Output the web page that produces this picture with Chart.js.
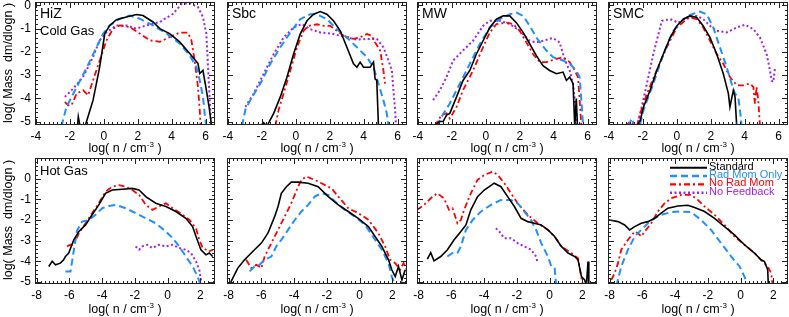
<!DOCTYPE html>
<html>
<head>
<meta charset="utf-8">
<script src="https://cdn.jsdelivr.net/npm/chart.js@4.4.1/dist/chart.umd.min.js"></script>
<style>
  body { margin: 0; background: #fff; width: 789px; height: 317px; position: relative; overflow: hidden;
         font-family: "Liberation Sans", Arial, sans-serif; color: #000; }
  canvas { position: absolute; }
  .txt { position: absolute; white-space: nowrap; line-height: 1; }
  .ytitle { font-size: 12.5px; transform: translate(-50%, -50%) rotate(-90deg); }
  .xtitle { font-size: 12.5px; transform: translate(-50%, -50%); }
  .sup { font-size: 8px; position: relative; top: -5px; }
  .name { font-size: 14px; transform: translateY(-50%); }
  .sub { font-size: 13px; transform: translateY(-50%); }
</style>
</head>
<body>
<script>
// Mass-weighted density PDFs, cold gas (top row) and hot gas (bottom row)

const topXTicks = [-4, -2, 0, 2, 4, 6];
const bottomXTicks = [-8, -6, -4, -2, 0, 2];
const yTicks = [0, -1, -2, -3, -4, -5];
const seriesNames = ['Standard', 'Rad Mom Only', 'No Rad Mom', 'No Feedback'];
const panelNames = ['HiZ', 'Sbc', 'MW', 'SMC'];

// cold gas, [log n, log dm/dlogn]
const hizStandard = [[-1.55,-5.2],[-1.5,-4.8],[-1.4,-5.2],[-1.1,-5.2],[-0.63,-4.08],[-0.24,-2.65],[0.06,-1.21],[0.35,-0.86],[0.75,-0.61],[1.33,-0.5],[1.92,-0.39],[2.31,-0.43],[2.9,-0.71],[3.3,-1.0],[3.88,-1.21],[4.47,-1.57],[5.06,-2.07],[5.55,-2.5],[5.65,-2.93],[5.84,-2.8],[6.04,-3.65],[6.2,-4.36],[6.35,-5.2]];
const hizRadMom = [[-2.49,-5.2],[-2.2,-4.38],[-1.6,-3.52],[-1.0,-2.67],[-0.43,-1.8],[-0.04,-1.22],[0.35,-0.86],[0.94,-0.57],[1.53,-0.43],[2.12,-0.57],[2.9,-0.86],[3.69,-1.21],[4.47,-1.64],[5.06,-2.15],[5.45,-2.65],[5.65,-3.22],[5.84,-3.93],[5.94,-4.65],[6.04,-5.2]];
const hizNoRadMom = [[-2.29,-4.15],[-2.1,-4.3],[-1.9,-4.3],[-1.6,-3.8],[-1.22,-3.65],[-0.92,-3.87],[-0.63,-3.22],[-0.24,-2.37],[0.16,-1.5],[0.55,-1.0],[0.94,-0.86],[1.53,-0.93],[2.12,-1.21],[2.7,-1.5],[3.3,-1.57],[3.88,-1.36],[4.47,-1.17],[4.96,-1.17],[5.16,-1.5],[5.35,-2.37],[5.55,-3.52],[5.65,-4.5],[5.7,-5.2]];
const hizNoFeedback = [[-2.29,-3.94],[-1.8,-3.58],[-1.22,-3.08],[-0.63,-2.22],[-0.24,-1.5],[0.16,-1.15],[0.75,-0.86],[1.33,-0.86],[1.92,-1.0],[2.51,-0.86],[3.3,-0.71],[4.08,-0.36],[4.57,0.06],[5.06,0.1],[5.55,-0.07],[5.84,-0.5],[6.04,-1.21],[6.14,-2.65],[6.24,-4.08],[6.33,-5.2]];

const sbcStandard = [[-2.09,-5.2],[-1.9,-5.05],[-1.7,-5.2],[-1.3,-4.65],[-0.91,-3.94],[-0.52,-3.09],[-0.13,-2.09],[0.26,-1.23],[0.66,-0.66],[1.05,-0.38],[1.44,-0.26],[1.83,-0.38],[2.22,-0.66],[2.62,-1.09],[3.01,-1.8],[3.4,-2.51],[3.6,-2.66],[3.79,-2.44],[3.99,-2.66],[4.38,-2.66],[4.58,-2.44],[4.67,-3.16],[4.77,-3.23],[4.87,-5.2]];
const sbcRadMom = [[-3.17,-5.2],[-2.97,-4.5],[-2.68,-4.08],[-2.09,-3.37],[-1.5,-2.51],[-0.91,-1.8],[-0.32,-1.16],[0.26,-0.59],[0.85,-0.38],[1.25,-0.38],[1.83,-0.59],[2.42,-1.02],[3.01,-1.38],[3.6,-1.8],[4.19,-2.23],[4.58,-2.66],[4.87,-3.37],[5.16,-4.08],[5.36,-4.65],[5.46,-5.2]];
const sbcNoRadMom = [[-1.21,-5.2],[-1.01,-4.5],[-0.72,-3.8],[-0.32,-2.8],[0.07,-1.8],[0.46,-1.09],[0.75,-0.88],[1.25,-0.81],[1.64,-0.88],[2.03,-0.88],[2.42,-1.09],[2.81,-1.3],[3.4,-1.44],[3.79,-1.37],[4.19,-1.23],[4.48,-1.3],[4.67,-1.59],[4.97,-1.94],[5.16,-2.8],[5.26,-3.37]];
const sbcNoFeedback = [[-2.97,-4.37],[-2.48,-3.8],[-1.89,-2.94],[-1.3,-2.09],[-0.72,-1.38],[-0.13,-0.95],[0.36,-0.8],[0.85,-1.02],[1.44,-1.16],[2.22,-1.23],[3.01,-1.38],[3.6,-1.47],[4.19,-1.44],[4.77,-1.44],[5.16,-1.8],[5.46,-2.37],[5.66,-2.8],[5.75,-3.65],[5.85,-4.5],[5.9,-5.2]];

const mwStandard = [[-3.0,-5.2],[-2.73,-5.0],[-2.51,-5.0],[-2.31,-4.72],[-2.12,-4.65],[-1.72,-3.94],[-1.34,-3.23],[-0.94,-2.8],[-0.55,-2.09],[-0.16,-1.52],[0.24,-0.95],[0.63,-0.59],[1.02,-0.45],[1.41,-0.45],[1.8,-0.74],[2.2,-1.16],[2.59,-1.66],[2.98,-2.16],[3.37,-2.59],[3.76,-2.8],[4.16,-2.94],[4.55,-2.87],[4.75,-3.23],[4.94,-3.09],[5.14,-3.37],[5.24,-5.2],[5.33,-4.01],[5.4,-5.2]];
const mwRadMom = [[-2.9,-5.2],[-2.61,-4.8],[-2.12,-4.22],[-1.53,-3.37],[-0.94,-2.51],[-0.35,-1.66],[0.24,-0.95],[0.82,-0.59],[1.41,-0.38],[1.8,-0.31],[2.2,-0.45],[2.59,-0.88],[2.98,-1.38],[3.57,-1.94],[3.96,-2.23],[4.55,-2.37],[4.94,-2.51],[5.33,-2.8],[5.53,-3.09],[5.63,-4.08],[5.73,-5.2]];
const mwNoRadMom = [[-3.0,-5.2],[-2.61,-4.72],[-2.31,-4.65],[-2.12,-4.87],[-1.72,-4.37],[-1.34,-3.65],[-0.75,-2.8],[-0.16,-1.8],[0.24,-1.16],[0.63,-0.8],[1.22,-0.74],[1.61,-0.8],[2.0,-1.09],[2.39,-1.59],[2.78,-2.09],[3.18,-2.44],[3.57,-2.44],[4.16,-2.3],[4.55,-2.23],[4.94,-2.44],[5.24,-2.8],[5.43,-3.09],[5.53,-4.08],[5.63,-5.2]];
const mwNoFeedback = [[-3.1,-4.08],[-2.71,-3.66],[-2.31,-3.08],[-1.92,-2.37],[-1.34,-1.94],[-0.75,-1.52],[-0.16,-0.88],[0.24,-0.66],[0.82,-0.66],[1.41,-0.8],[2.0,-1.09],[2.59,-1.52],[2.98,-1.59],[3.37,-1.52],[3.96,-1.4],[4.35,-1.59],[4.55,-2.09],[4.75,-2.51],[4.94,-2.8],[5.14,-3.37],[5.24,-4.08],[5.33,-5.2]];

const smcStandard = [[-2.35,-5.2],[-2.15,-4.95],[-1.96,-4.37],[-1.57,-3.65],[-1.18,-2.8],[-0.79,-2.09],[-0.39,-1.38],[0.0,-0.88],[0.39,-0.59],[0.78,-0.45],[1.18,-0.52],[1.56,-0.88],[1.96,-1.38],[2.35,-2.09],[2.74,-2.94],[3.04,-3.8],[3.13,-4.37],[3.33,-3.66],[3.43,-3.94],[3.53,-5.2]];
const smcRadMom = [[-2.85,-5.2],[-2.65,-4.87],[-2.45,-5.2],[-2.15,-5.1],[-1.96,-4.5],[-1.38,-3.37],[-0.79,-2.09],[-0.2,-1.09],[0.39,-0.59],[0.78,-0.41],[1.37,-0.26],[1.76,-0.38],[2.15,-0.95],[2.54,-1.8],[2.94,-2.66],[3.23,-3.37],[3.43,-3.8],[3.62,-3.94],[3.72,-4.5],[3.82,-5.2]];
const smcNoRadMom = [[-3.04,-5.2],[-2.75,-5.0],[-2.35,-5.2],[-2.15,-4.65],[-1.76,-3.8],[-1.18,-2.8],[-0.59,-1.8],[0.0,-0.95],[0.59,-0.59],[0.78,-0.52],[1.18,-0.59],[1.56,-0.95],[1.96,-1.52],[2.35,-2.09],[2.74,-2.51],[3.13,-3.08],[3.53,-3.44],[3.92,-3.44],[4.31,-3.37],[4.51,-3.51],[4.6,-4.23],[4.7,-3.51],[4.8,-4.08],[4.9,-5.2]];
const smcNoFeedback = [[-2.35,-5.2],[-2.15,-4.65],[-1.76,-3.37],[-1.38,-2.09],[-1.08,-1.23],[-0.88,-0.66],[-0.39,-0.59],[0.1,-0.74],[0.59,-0.52],[1.18,-0.45],[1.56,-0.59],[1.96,-0.88],[2.35,-1.09],[2.94,-1.16],[3.53,-0.95],[4.02,-0.83],[4.51,-1.02],[4.9,-1.38],[5.29,-2.09],[5.49,-2.8],[5.58,-3.23],[5.68,-3.3],[5.78,-2.73]];

// hot gas
const hotHizStandard = [[-7.26,-4.25],[-7.05,-4.0],[-6.85,-4.17],[-6.55,-4.09],[-6.35,-3.93],[-6.24,-3.77],[-6.04,-3.6],[-5.73,-2.96],[-5.42,-2.56],[-5.01,-2.24],[-4.61,-1.75],[-4.2,-1.27],[-3.79,-0.71],[-3.38,-0.55],[-2.77,-0.51],[-2.15,-0.47],[-1.74,-0.55],[-1.33,-0.87],[-0.72,-1.19],[-0.1,-1.35],[0.51,-1.59],[1.12,-1.92],[1.53,-2.32],[1.74,-2.8],[2.04,-3.45],[2.35,-3.69],[2.55,-3.6],[2.76,-3.77]];
const hotHizRadMom = [[-6.24,-4.49],[-5.93,-4.49],[-5.73,-3.48],[-5.53,-2.51],[-5.22,-2.08],[-4.81,-2.0],[-4.4,-1.75],[-3.99,-1.43],[-3.58,-1.32],[-3.17,-1.27],[-2.56,-1.43],[-1.95,-1.67],[-1.33,-1.92],[-0.72,-2.16],[-0.1,-2.56],[0.31,-2.88],[0.71,-3.28],[1.12,-3.77],[1.53,-4.25],[1.84,-4.74],[2.04,-5.2]];
const hotHizNoRadMom = [[-6.14,-3.28],[-5.93,-3.2],[-5.73,-3.2],[-5.42,-2.64],[-5.01,-2.16],[-4.61,-1.67],[-4.2,-1.19],[-3.79,-0.63],[-3.38,-0.39],[-2.97,-0.31],[-2.56,-0.39],[-2.15,-0.55],[-1.74,-0.79],[-1.33,-1.27],[-0.93,-1.51],[-0.52,-1.35],[-0.1,-1.19],[0.31,-1.43],[0.92,-1.75],[1.33,-1.99],[1.74,-2.4],[1.94,-2.96],[2.15,-3.36],[2.55,-3.52],[2.76,-3.44]];
const hotHizNoFeedback = [[-1.95,-3.28],[-1.74,-3.44],[-1.54,-3.28],[-1.23,-3.2],[-0.93,-3.36],[-0.52,-3.2],[-0.1,-3.28],[0.31,-3.2],[0.71,-3.36],[1.12,-3.44],[1.43,-3.6],[1.74,-4.01],[1.94,-4.41],[2.1,-5.2]];

const hotSbcStandard = [[-8.0,-5.2],[-7.85,-4.98],[-7.64,-4.65],[-7.44,-4.33],[-7.03,-3.93],[-6.83,-3.77],[-6.42,-3.44],[-6.0,-3.12],[-5.6,-2.64],[-5.19,-1.84],[-4.98,-1.35],[-4.78,-0.71],[-4.47,-0.39],[-4.17,-0.17],[-3.76,-0.17],[-3.14,-0.22],[-2.53,-0.39],[-1.91,-0.87],[-1.3,-1.27],[-0.69,-1.59],[-0.08,-1.92],[0.54,-2.32],[0.95,-2.8],[1.36,-3.28],[1.77,-3.93],[1.97,-4.41],[2.18,-4.74],[2.38,-4.25],[2.59,-4.9],[2.79,-4.41]];
const hotSbcRadMom = [[-6.72,-4.49],[-6.42,-4.25],[-6.11,-4.17],[-5.8,-3.93],[-5.39,-3.77],[-5.09,-3.28],[-4.78,-2.96],[-4.37,-2.48],[-3.96,-2.0],[-3.55,-1.59],[-3.14,-1.27],[-2.74,-0.87],[-2.33,-0.71],[-1.91,-0.79],[-1.5,-1.11],[-0.89,-1.51],[-0.28,-1.84],[0.34,-2.24],[0.95,-2.96],[1.36,-3.44],[1.77,-4.09],[1.97,-4.74],[2.18,-5.2]];
const hotSbcNoRadMom = [[-6.93,-3.93],[-6.62,-4.33],[-6.31,-4.17],[-6.0,-4.33],[-5.8,-3.77],[-5.39,-3.12],[-4.98,-2.48],[-4.58,-1.84],[-4.17,-1.19],[-3.76,-0.39],[-3.55,-0.06],[-3.25,0.1],[-2.74,-0.06],[-2.33,-0.22],[-1.71,-0.47],[-1.3,-0.87],[-0.69,-1.43],[-0.08,-1.67],[0.54,-1.99],[1.15,-2.64],[1.56,-3.28],[1.87,-3.93],[2.18,-4.09],[2.48,-4.41],[2.69,-4.09],[2.89,-4.41]];
const hotSbcNoFeedback = [];

const hotMwStandard = [[-7.47,-3.9],[-7.26,-3.58],[-7.06,-3.98],[-6.65,-3.77],[-6.24,-3.44],[-5.83,-2.96],[-5.42,-2.56],[-5.11,-2.24],[-4.81,-1.51],[-4.4,-0.87],[-3.99,-0.55],[-3.38,-0.22],[-2.97,-0.39],[-2.56,-0.87],[-2.15,-1.35],[-1.74,-1.92],[-1.33,-2.08],[-0.92,-2.16],[-0.51,-2.24],[-0.1,-2.48],[0.31,-2.8],[0.72,-3.28],[1.13,-3.6],[1.54,-3.77],[1.74,-3.93],[1.95,-4.74],[2.15,-4.9],[2.25,-5.2],[2.35,-4.01],[2.4,-5.2]];
const hotMwRadMom = [[-6.24,-3.77],[-5.93,-3.6],[-5.63,-3.6],[-5.42,-3.28],[-5.11,-2.48],[-4.7,-2.0],[-4.19,-1.59],[-3.58,-1.27],[-2.97,-1.03],[-2.36,-1.03],[-1.95,-1.19],[-1.54,-1.59],[-1.13,-2.0],[-0.82,-2.48],[-0.51,-3.12],[-0.1,-3.77],[0.11,-4.25],[0.31,-4.33],[0.41,-5.2]];
const hotMwNoRadMom = [[-8.1,-1.51],[-7.67,-1.27],[-7.26,-0.95],[-6.86,-0.71],[-6.45,-0.95],[-6.14,-1.51],[-5.93,-1.43],[-5.63,-2.16],[-5.42,-2.0],[-5.22,-1.51],[-4.81,-0.71],[-4.4,-0.06],[-3.99,0.18],[-3.48,0.34],[-3.17,0.18],[-2.76,-0.22],[-2.36,-0.71],[-1.95,-1.19],[-1.33,-1.75],[-0.72,-2.16],[-0.1,-2.48],[0.31,-2.8],[0.72,-3.28],[1.33,-3.6],[1.74,-3.85],[1.95,-4.82],[2.05,-5.2]];
const hotMwNoFeedback = [[-3.28,-2.4],[-3.07,-2.56],[-2.77,-2.88],[-2.36,-2.88],[-1.95,-3.12],[-1.54,-3.28],[-1.13,-3.44],[-0.82,-3.77],[-0.72,-4.09]];

const hotSmcStandard = [[-8.1,-1.98],[-8.0,-2.0],[-7.49,-2.08],[-7.08,-2.24],[-6.78,-2.48],[-6.47,-2.32],[-6.07,-2.16],[-5.66,-2.08],[-5.25,-1.92],[-4.85,-1.67],[-4.44,-1.43],[-3.83,-1.32],[-3.22,-1.29],[-2.81,-1.4],[-2.2,-1.59],[-1.59,-1.92],[-0.98,-2.32],[-0.37,-2.72],[0.24,-3.2],[0.85,-3.6],[1.25,-3.93],[1.46,-4.01],[1.66,-4.41],[1.7,-5.2]];
const hotSmcRadMom = [[-7.59,-5.2],[-7.29,-4.25],[-6.88,-3.44],[-6.47,-2.8],[-6.07,-2.48],[-5.66,-2.16],[-5.25,-1.92],[-4.85,-1.75],[-4.24,-1.62],[-3.63,-1.59],[-3.02,-1.62],[-2.41,-2.0],[-1.8,-2.48],[-1.19,-3.12],[-0.57,-3.77],[-0.06,-4.25],[0.24,-4.74],[0.45,-5.2]];
const hotSmcNoRadMom = [[-7.9,-4.9],[-7.69,-4.57],[-7.49,-4.09],[-7.29,-3.44],[-6.88,-2.96],[-6.47,-2.56],[-6.27,-2.64],[-6.07,-2.8],[-5.86,-2.56],[-5.46,-2.16],[-5.05,-1.59],[-4.64,-1.19],[-4.24,-0.95],[-3.63,-0.79],[-3.02,-0.79],[-2.61,-1.03],[-2.2,-1.35],[-1.59,-1.75],[-0.98,-2.24],[-0.37,-2.8],[0.24,-3.2],[0.85,-3.6],[1.25,-3.93],[1.66,-4.25],[1.87,-4.57],[1.97,-5.2]];
const hotSmcNoFeedback = [];

const panels = [
  { row: 0, col: 0, series: [hizStandard, hizRadMom, hizNoRadMom, hizNoFeedback] },
  { row: 0, col: 1, series: [sbcStandard, sbcRadMom, sbcNoRadMom, sbcNoFeedback] },
  { row: 0, col: 2, series: [mwStandard, mwRadMom, mwNoRadMom, mwNoFeedback] },
  { row: 0, col: 3, series: [smcStandard, smcRadMom, smcNoRadMom, smcNoFeedback] },
  { row: 1, col: 0, series: [hotHizStandard, hotHizRadMom, hotHizNoRadMom, hotHizNoFeedback] },
  { row: 1, col: 1, series: [hotSbcStandard, hotSbcRadMom, hotSbcNoRadMom, hotSbcNoFeedback] },
  { row: 1, col: 2, series: [hotMwStandard, hotMwRadMom, hotMwNoRadMom, hotMwNoFeedback] },
  { row: 1, col: 3, series: [hotSmcStandard, hotSmcRadMom, hotSmcNoRadMom, hotSmcNoFeedback], legend: true }
];

// layout
const colLeft = [35, 227, 417, 608];
const rowTop = [2, 158];
const rowHeight = [123, 126];
const boxW = 180;
const ML = 34, MR = 8, MT = 8, MB = 22;
const xRange = [[-4.05, 6.55], [-8.1, 2.9]];
const yRange = [[-5.15, 0.15], [-5.1, 1.0]];

const lineStyles = [
  { color: '#000000', width: 1.6, dash: [] },
  { color: '#1E90FF', width: 2, dash: [7, 4] },
  { color: '#FF0000', width: 1.8, dash: [6, 3, 2, 3] },
  { color: '#A020F0', width: 2, dash: [2, 2.5] }
];

Chart.defaults.font.family = '"Liberation Sans", Arial, sans-serif';
Chart.defaults.color = '#000';

// box with inward major/minor ticks on every side
const frameTicks = {
  id: 'frameTicks',
  afterDatasetsDraw(chart) {
    const { ctx, chartArea: a, scales: { x, y } } = chart;
    ctx.save();
    ctx.strokeStyle = '#222';
    ctx.lineWidth = 1;
    ctx.setLineDash([]);
    ctx.beginPath();
    const xStep = 0.25, yStep = 0.2;
    for (let i = Math.ceil(x.min / xStep); i * xStep <= x.max; i++) {
      const len = i % 8 === 0 ? 6 : 3;
      const px = Math.round(x.getPixelForValue(i * xStep)) + 0.5;
      ctx.moveTo(px, a.bottom); ctx.lineTo(px, a.bottom - len);
      ctx.moveTo(px, a.top); ctx.lineTo(px, a.top + len);
    }
    for (let i = Math.ceil(y.min / yStep); i * yStep <= y.max; i++) {
      const len = i % 5 === 0 ? 6 : 3;
      const py = Math.round(y.getPixelForValue(i * yStep)) + 0.5;
      ctx.moveTo(a.left, py); ctx.lineTo(a.left + len, py);
      ctx.moveTo(a.right, py); ctx.lineTo(a.right - len, py);
    }
    ctx.stroke();
    ctx.strokeRect(a.left + 0.5, a.top + 0.5, a.width - 1, a.height - 1);
    ctx.restore();
  }
};

// small legend in the corner of the last panel
const cornerLegend = {
  id: 'cornerLegend',
  afterDatasetsDraw(chart, args, opts) {
    if (!opts.show) return;
    const { ctx, chartArea: a } = chart;
    ctx.save();
    ctx.font = '11px "Liberation Sans", Arial, sans-serif';
    ctx.textBaseline = 'middle';
    seriesNames.forEach((name, i) => {
      const st = lineStyles[i];
      const yy = a.top + 8.7 + i * 8.35;
      ctx.strokeStyle = st.color;
      ctx.lineWidth = st.width + 0.4;
      ctx.setLineDash(st.dash);
      ctx.beginPath();
      ctx.moveTo(a.left + 62, yy + 1);
      ctx.lineTo(a.left + 99, yy + 1);
      ctx.stroke();
      ctx.fillStyle = st.color;
      ctx.fillText(name, a.left + 101, yy);
    });
    ctx.restore();
  }
};

function makePanel(p) {
  const left = colLeft[p.col], top = rowTop[p.row], h = rowHeight[p.row];
  const cv = document.createElement('canvas');
  cv.width = boxW + ML + MR;
  cv.height = h + MT + MB;
  cv.style.left = (left - ML) + 'px';
  cv.style.top = (top - MT) + 'px';
  document.body.appendChild(cv);

  const xTicks = p.row === 0 ? topXTicks : bottomXTicks;

  new Chart(cv, {
    type: 'line',
    data: {
      datasets: p.series.map((pts, i) => ({
        label: seriesNames[i],
        data: pts.map(([x, y]) => ({ x, y })),
        borderColor: lineStyles[i].color,
        borderWidth: lineStyles[i].width,
        borderDash: lineStyles[i].dash,
        pointRadius: 0,
        tension: 0,
        fill: false,
        clip: 0
      }))
    },
    options: {
      responsive: false,
      animation: false,
      events: [],
      layout: { padding: { left: 0, right: MR, top: MT, bottom: 0 } },
      plugins: {
        legend: { display: false },
        tooltip: { enabled: false },
        cornerLegend: { show: !!p.legend }
      },
      scales: {
        x: {
          type: 'linear',
          min: xRange[p.row][0],
          max: xRange[p.row][1],
          grid: { display: false, drawTicks: false },
          border: { display: false },
          afterBuildTicks: s => { s.ticks = xTicks.map(v => ({ value: v })); },
          afterFit: s => { s.height = MB; s.paddingLeft = 0; s.paddingRight = 0; },
          ticks: { font: { size: 12 }, padding: 4, maxRotation: 0, autoSkip: false,
                   callback: v => String(v) }
        },
        y: {
          type: 'linear',
          min: yRange[p.row][0],
          max: yRange[p.row][1],
          grid: { display: false, drawTicks: false },
          border: { display: false },
          afterBuildTicks: s => { s.ticks = yTicks.map(v => ({ value: v })); },
          afterFit: s => { s.width = ML; s.paddingTop = 0; s.paddingBottom = 0; },
          ticks: { display: p.col === 0, font: { size: 12 }, padding: 4,
                   callback: v => String(v) }
        }
      }
    },
    plugins: [frameTicks, cornerLegend]
  });
}

panels.forEach(makePanel);

// text labels
function addText(cls, html, x, y) {
  const d = document.createElement('div');
  d.className = 'txt ' + cls;
  d.innerHTML = html;
  d.style.left = x + 'px';
  d.style.top = y + 'px';
  document.body.appendChild(d);
}

const xTitle = 'log( n / cm<span class="sup">-3</span> )';
colLeft.forEach(l => {
  addText('xtitle', xTitle, l + boxW / 2, 148);
  addText('xtitle', xTitle, l + boxW / 2, 309);
});
addText('ytitle', 'log( Mass&nbsp; dm/dlogn )', 8, 63);
addText('ytitle', 'log( Mass&nbsp; dm/dlogn )', 8, 220);
panelNames.forEach((n, i) => addText('name', n, colLeft[i] + 5, 13));
addText('sub', 'Cold Gas', 40, 29.5);
addText('sub', 'Hot Gas', 40, 170);
</script>
</body>
</html>
